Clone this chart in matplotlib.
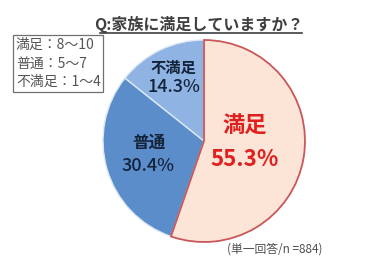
import matplotlib
matplotlib.use("Agg")
import matplotlib.pyplot as plt

plt.rcParams['font.family'] = ['Noto Sans CJK JP', 'DejaVu Sans']

# データ
labels = ["満足", "普通", "不満足"]
values = [55.3, 30.4, 14.3]
colors = ["#FCE4D6", "#5A8DCA", "#8FB4E3"]
edge_colors = ["#C9575A", "#DCE8F5", "#DCE8F5"]
title = "Q:家族に満足していますか？"
legend_lines = ["満足：8～10", "普通：5～7", "不満足：1～4"]
note = "(単一回答/n =884)"

W, H = 365, 266
fig = plt.figure(figsize=(W / 100, H / 100), dpi=100)

# 円グラフ（中心 x=204, y=141, 半径 ~102 px）
cx, cy, r = 204, 141, 102
ax = fig.add_axes([(cx - r) / W, 1 - (cy + r) / H, 2 * r / W, 2 * r / H])
wedges, _ = ax.pie(values, colors=colors, startangle=90, counterclock=False,
                   wedgeprops=dict(linewidth=1.0, edgecolor="white"))
for w, ec in zip(wedges, edge_colors):
    w.set_edgecolor(ec)
wedges[0].set_linewidth(1.3)
wedges[0].set_zorder(3)
ax.set_aspect("auto")
ax.set_xlim(-1.01, 1.01)
ax.set_ylim(-1.01, 1.01)

# ラベル
ax.text(0.40, 0.14, labels[0], ha="center", va="center", fontsize=16,
        fontweight="bold", color="#E0201E")
ax.text(0.40, -0.18, f"{values[0]}%", ha="center", va="center", fontsize=16,
        fontweight="bold", color="#E0201E")
ax.text(-0.55, -0.02, labels[1], ha="center", va="center", fontsize=12,
        fontweight="bold", color="#15233A")
ax.text(-0.55, -0.25, f"{values[1]}%", ha="center", va="center", fontsize=13,
        fontweight="medium", color="#15233A")
ax.text(-0.30, 0.72, labels[2], ha="center", va="center", fontsize=11,
        fontweight="bold", color="#15233A")
ax.text(-0.30, 0.53, f"{values[2]}%", ha="center", va="center", fontsize=13,
        fontweight="medium", color="#15233A")

# タイトル（下線付き）
fig.text(199 / W, 1 - 24 / H, title, ha="center", va="center", fontsize=11.5,
         fontweight="bold", color="#404040")
fig.add_artist(plt.Line2D([100 / W, 302 / W], [1 - 32.5 / H, 1 - 32.5 / H],
                          color="#404040", linewidth=1.2))

# 凡例ボックス
fig.add_artist(plt.Rectangle((13 / W, 1 - 92 / H), 90 / W, 57 / H,
                             transform=fig.transFigure, facecolor="white",
                             edgecolor="#707070", linewidth=0.9, zorder=4))
for i, line in enumerate(legend_lines):
    fig.text(16 / W, 1 - (45 + 18.5 * i) / H, line, ha="left", va="center",
             fontsize=10, color="#555555", zorder=5)

# 注記
fig.text(227 / W, 1 - 249 / H, note, ha="left", va="center", fontsize=8.5,
         color="#505050")

fig.savefig("out.png", dpi=100)
